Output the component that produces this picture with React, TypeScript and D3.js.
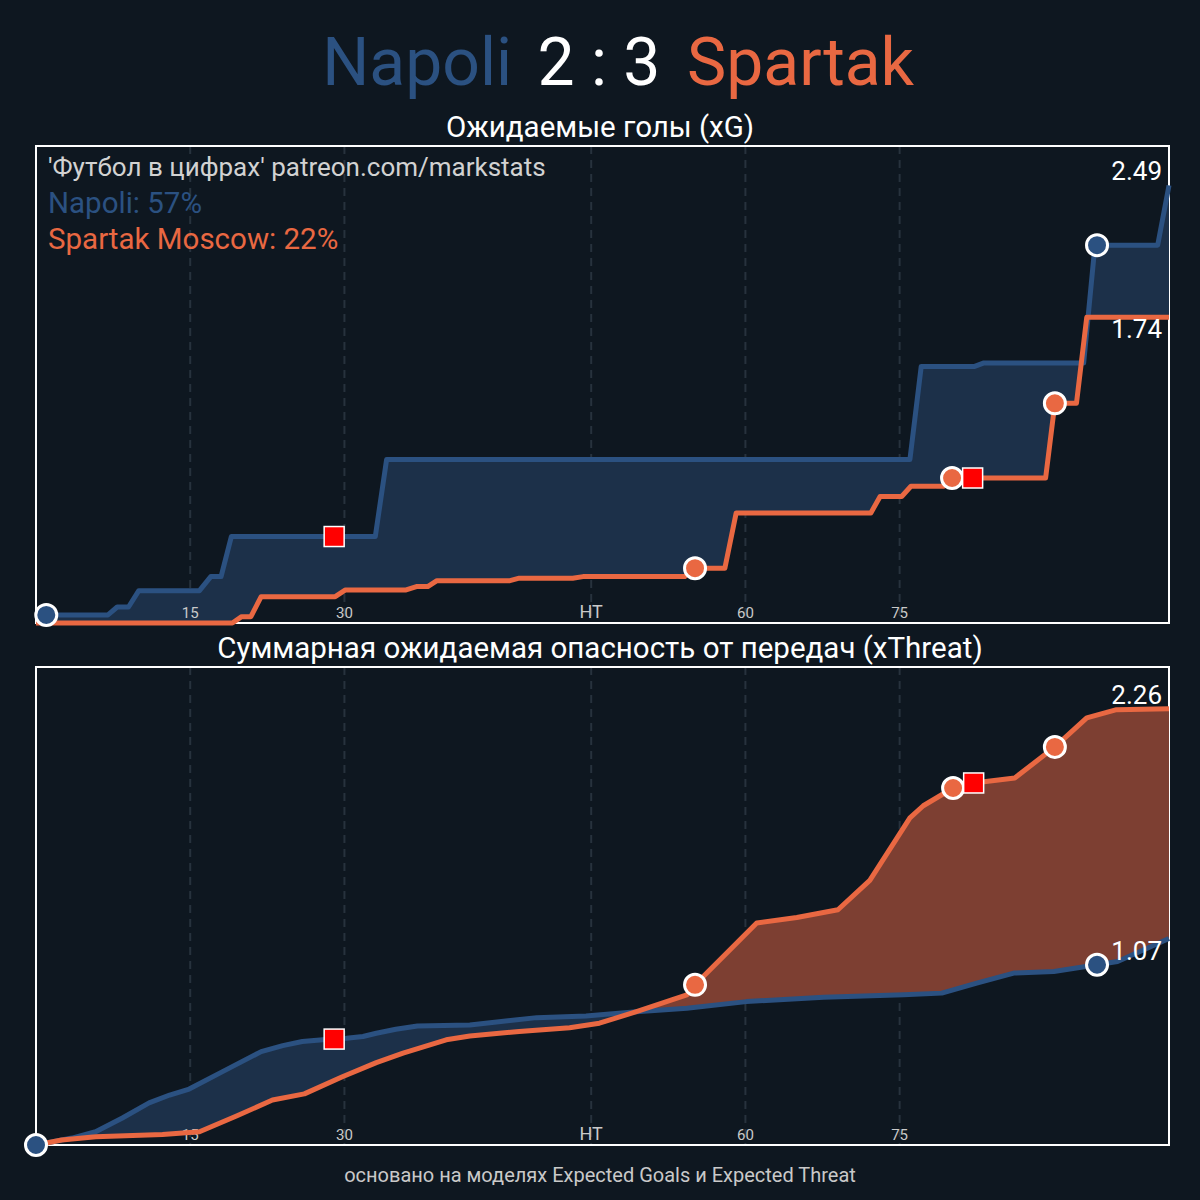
import React from "react";
import { scaleLinear, line, area, curveLinear } from "d3";

// timeline minutes (second half shifted by stoppage) -> cumulative value
const napoliXG: [number, number][] = [
  [0, 0.046], [7.0, 0.046], [7.9, 0.091], [9.0, 0.091], [10.0, 0.184], [15.9, 0.184],
  [17.0, 0.264], [18.0, 0.264], [19.0, 0.492], [33.0, 0.492], [34.1, 0.93], [85.0, 0.93],
  [86.1, 1.46], [91.3, 1.46], [92.2, 1.48], [101.9, 1.48], [103.0, 2.15], [109.1, 2.15],
  [110.2, 2.49],
];
const spartakXG: [number, number][] = [
  [0, 0], [19.1, 0], [20.0, 0.036], [20.9, 0.036], [21.9, 0.15], [29.1, 0.15], [30.1, 0.188],
  [36.0, 0.188], [37.0, 0.207], [38.1, 0.207], [39.0, 0.241], [46.1, 0.241], [47.0, 0.255],
  [52.2, 0.255], [53.2, 0.264], [63.1, 0.264], [64.1, 0.312], [67.0, 0.312], [68.1, 0.626],
  [81.2, 0.626], [82.1, 0.72], [84.2, 0.72], [85.1, 0.778], [88.3, 0.778], [89.1, 0.825],
  [98.2, 0.825], [99.1, 1.25], [101.2, 1.25], [102.2, 1.74], [110.2, 1.74],
];
const napoliXT: [number, number][] = [
  [0, 0], [3.5, 0.036], [5.8, 0.069], [8.4, 0.14], [11.0, 0.218], [13.0, 0.259], [14.9, 0.29],
  [18.1, 0.379], [21.9, 0.484], [24.0, 0.515], [25.9, 0.536], [27.9, 0.545], [30.2, 0.553],
  [31.8, 0.562], [33.1, 0.579], [35.0, 0.6], [37.1, 0.617], [42.2, 0.622], [48.7, 0.66],
  [53.5, 0.669], [58.4, 0.691], [63.3, 0.709], [69.1, 0.743], [76.6, 0.766], [84.4, 0.778],
  [88.1, 0.787], [91.5, 0.839], [95.1, 0.891], [99.0, 0.899], [103.2, 0.934], [105.2, 0.951],
  [110.2, 1.07],
];
const spartakXT: [number, number][] = [
  [0, 0], [2.5, 0.026], [5.8, 0.043], [12.3, 0.055], [15.9, 0.069], [19.5, 0.15], [23.0, 0.233],
  [26.1, 0.265], [29.8, 0.354], [33.1, 0.427], [35.7, 0.476], [39.9, 0.545], [42.2, 0.565],
  [47.0, 0.588], [51.9, 0.608], [54.8, 0.631], [58.4, 0.691], [63.3, 0.778], [64.1, 0.83],
  [70.1, 1.15], [74.0, 1.179], [78.0, 1.219], [81.1, 1.371], [85.0, 1.695], [86.3, 1.758],
  [89.2, 1.85], [91.2, 1.876], [95.2, 1.902], [99.1, 2.063], [102.2, 2.213], [105.1, 2.256],
  [110.2, 2.26],
];

// goals (circle) and red cards (square)
const xgEvents = [
  { team: "napoli", kind: "goal", minute: 1.0 },
  { team: "napoli", kind: "red", minute: 29.0 },
  { team: "spartak", kind: "goal", minute: 64.1 },
  { team: "spartak", kind: "goal", minute: 89.1 },
  { team: "spartak", kind: "red", minute: 91.1 },
  { team: "spartak", kind: "goal", minute: 99.1 },
  { team: "napoli", kind: "goal", minute: 103.2 },
];
const xtEvents = [
  { team: "napoli", kind: "goal", minute: 0 },
  { team: "napoli", kind: "red", minute: 29.0 },
  { team: "spartak", kind: "goal", minute: 64.1 },
  { team: "spartak", kind: "goal", minute: 89.2 },
  { team: "spartak", kind: "red", minute: 91.2 },
  { team: "spartak", kind: "goal", minute: 99.1 },
  { team: "napoli", kind: "goal", minute: 103.2 },
];

const tickMinutes = [15, 30, 54, 69, 84];
const tickLabels = ["15", "30", "HT", "60", "75"];
const xgShare = { napoli: 57, spartak: 22 };

const BG = "#0e1720";
const BLUE = "#2b5181";
const ORANGE = "#e96842";
const BLUE_FILL = "#1c3049";
const ORANGE_FILL = "#7d3f32";
const FONT = "Roboto, 'Noto Sans', sans-serif";

const LEFT = 36;
const RIGHT = 1169;

const x = scaleLinear().domain([0, 110.2]).range([LEFT, RIGHT]);

const interp = (s: [number, number][], m: number) => {
  if (m <= s[0][0]) return s[0][1];
  for (let i = 1; i < s.length; i++) {
    if (m <= s[i][0]) {
      const [m0, v0] = s[i - 1];
      const [m1, v1] = s[i];
      return m1 === m0 ? v1 : v0 + ((v1 - v0) * (m - m0)) / (m1 - m0);
    }
  }
  return s[s.length - 1][1];
};

interface PanelProps {
  id: string;
  top: number;
  bottom: number;
  pad: number;
  napoli: [number, number][];
  spartak: [number, number][];
  events: { team: string; kind: string; minute: number }[];
}

const Panel = ({ id, top, bottom, pad, napoli, spartak, events }: PanelProps) => {
  const nEnd = napoli[napoli.length - 1][1];
  const sEnd = spartak[spartak.length - 1][1];
  const y = scaleLinear().domain([0, Math.max(nEnd, sEnd) * pad]).range([bottom, top]);

  const grid = Array.from(new Set([...napoli.map((d) => d[0]), ...spartak.map((d) => d[0])])).sort(
    (a, b) => a - b
  );
  const rows = grid.map((m) => ({ m, n: interp(napoli, m), s: interp(spartak, m) }));

  const between = area<{ m: number; n: number; s: number }>()
    .x((d) => x(d.m))
    .y0((d) => y(d.n))
    .y1((d) => y(d.s))
    .curve(curveLinear);
  const aboveN = area<{ m: number; n: number; s: number }>()
    .x((d) => x(d.m))
    .y0((d) => y(d.n))
    .y1(top - 20);
  const belowN = area<{ m: number; n: number; s: number }>()
    .x((d) => x(d.m))
    .y0((d) => y(d.n))
    .y1(bottom + 20);
  const path = line<[number, number]>()
    .x((d) => x(d[0]))
    .y((d) => y(d[1]));

  const nHigher = nEnd >= sEnd;
  const labels = [
    { v: nEnd, dy: nHigher ? -5 : 21 },
    { v: sEnd, dy: nHigher ? 21 : -5 },
  ];

  return (
    <g>
      <defs>
        <clipPath id={`${id}-above`}>
          <path d={aboveN(rows) || ""} />
        </clipPath>
        <clipPath id={`${id}-below`}>
          <path d={belowN(rows) || ""} />
        </clipPath>
      </defs>
      {tickMinutes.map((m) => (
        <line
          key={m}
          x1={x(m)}
          x2={x(m)}
          y1={top}
          y2={bottom}
          stroke="#27323d"
          strokeWidth={2}
          strokeDasharray="8 6"
        />
      ))}
      <rect x={LEFT} y={top} width={RIGHT - LEFT} height={bottom - top} fill="none" stroke="#ffffff" strokeWidth={2} />
      <path d={between(rows) || ""} fill={ORANGE_FILL} clipPath={`url(#${id}-above)`} />
      <path d={between(rows) || ""} fill={BLUE_FILL} clipPath={`url(#${id}-below)`} />
      {tickMinutes.map((m, i) => (
        <text
          key={m}
          x={x(m)}
          y={bottom - 5}
          textAnchor="middle"
          fill="#c9c9c9"
          fontSize={tickLabels[i] === "HT" ? 18 : 15}
          fontFamily={FONT}
        >
          {tickLabels[i]}
        </text>
      ))}
      <path d={path(napoli) || ""} fill="none" stroke={BLUE} strokeWidth={5} strokeLinejoin="round" />
      <path d={path(spartak) || ""} fill="none" stroke={ORANGE} strokeWidth={5} strokeLinejoin="round" />
      {events
        .filter((e) => e.kind === "goal")
        .map((e, i) => {
          const s = e.team === "napoli" ? napoli : spartak;
          return (
            <circle
              key={i}
              cx={x(e.minute)}
              cy={y(interp(s, e.minute))}
              r={10.5}
              fill={e.team === "napoli" ? BLUE : ORANGE}
              stroke="#ffffff"
              strokeWidth={3}
            />
          );
        })}
      {events
        .filter((e) => e.kind === "red")
        .map((e, i) => {
          const s = e.team === "napoli" ? napoli : spartak;
          return (
            <rect
              key={i}
              x={x(e.minute) - 10}
              y={y(interp(s, e.minute)) - 10}
              width={20}
              height={20}
              fill="#ff0000"
              stroke="#ffffff"
              strokeWidth={1.5}
            />
          );
        })}
      {labels.map((l, i) => (
        <text
          key={i}
          x={RIGHT - 7}
          y={y(l.v) + l.dy}
          textAnchor="end"
          fill="#ffffff"
          fontSize={26}
          fontFamily={FONT}
        >
          {l.v.toFixed(2)}
        </text>
      ))}
    </g>
  );
};

export default function App() {
  return (
    <svg
      width={1200}
      height={1200}
      style={{ position: "absolute", left: 0, top: 0, background: BG }}
      fontFamily={FONT}
    >
      <rect width={1200} height={1200} fill={BG} />
      <text x={512} y={85} textAnchor="end" fill={BLUE} fontSize={66}>
        Napoli
      </text>
      <text x={599} y={85} textAnchor="middle" fill="#ffffff" fontSize={66}>
        2 : 3
      </text>
      <text x={687} y={85} textAnchor="start" fill={ORANGE} fontSize={66}>
        Spartak
      </text>

      <text x={600} y={137} textAnchor="middle" fill="#ffffff" fontSize={29.5}>
        Ожидаемые голы (xG)
      </text>
      <Panel id="xg" top={146} bottom={623} pad={1.09} napoli={napoliXG} spartak={spartakXG} events={xgEvents} />
      <text x={48} y={176} fill="#d2d2d2" fontSize={26}>
        'Футбол в цифрах' patreon.com/markstats
      </text>
      <text x={48} y={213} fill={BLUE} fontSize={29.5}>
        {`Napoli: ${xgShare.napoli}%`}
      </text>
      <text x={48} y={249} fill={ORANGE} fontSize={29.5}>
        {`Spartak Moscow: ${xgShare.spartak}%`}
      </text>

      <text x={600} y={658} textAnchor="middle" fill="#ffffff" fontSize={29.5}>
        Суммарная ожидаемая опасность от передач (xThreat)
      </text>
      <Panel id="xt" top={667} bottom={1145} pad={1.096} napoli={napoliXT} spartak={spartakXT} events={xtEvents} />

      <text x={600} y={1182} textAnchor="middle" fill="#c9c9c9" fontSize={20}>
        основано на моделях Expected Goals и Expected Threat
      </text>
    </svg>
  );
}
